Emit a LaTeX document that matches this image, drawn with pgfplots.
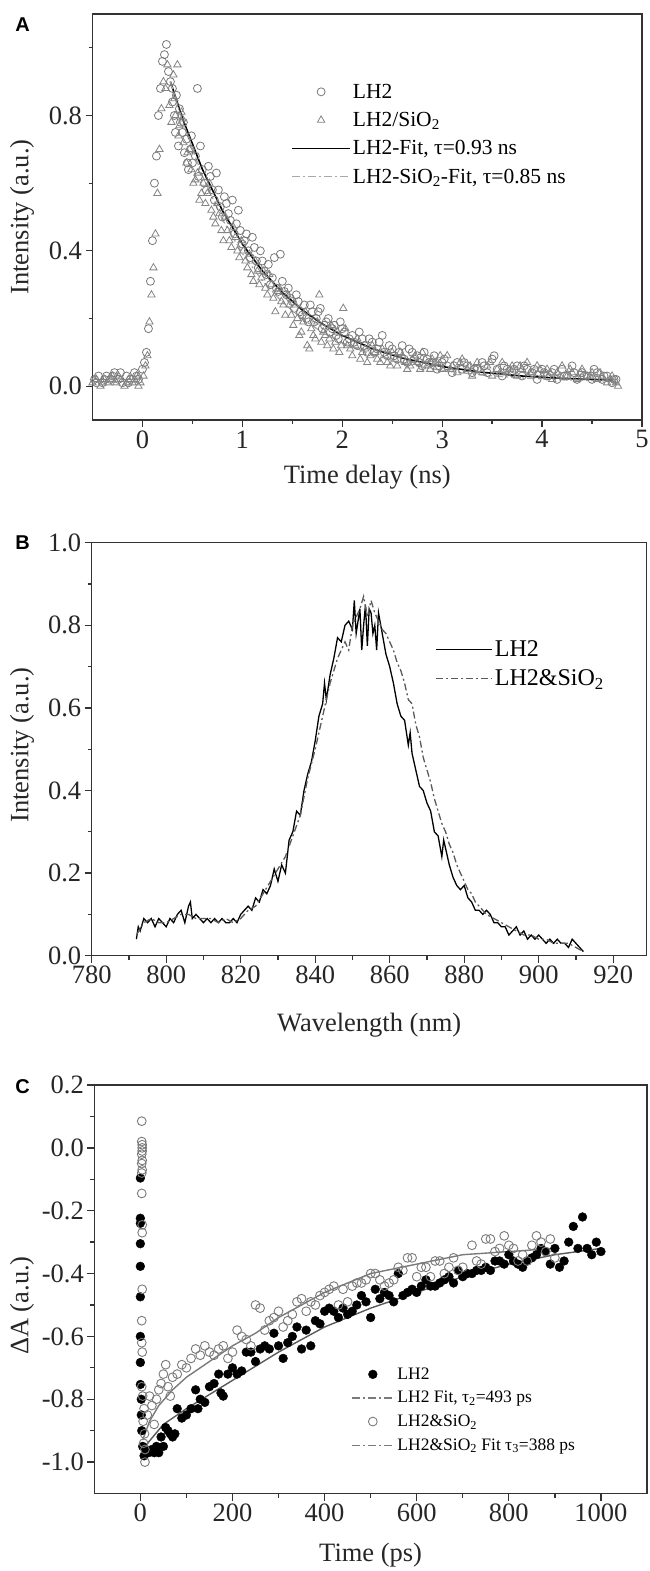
\documentclass[border=0pt]{standalone}
\usepackage{pgfplots}
\pgfplotsset{compat=1.18}
\usepackage{fontspec}
\setmainfont{Liberation Serif}
\newfontfamily\labelfont{Liberation Sans}
\definecolor{axisgray}{HTML}{333333}
\definecolor{markgray}{HTML}{787878}
\definecolor{trigray}{HTML}{858585}
\definecolor{fitlight}{HTML}{A8A8A8}
\definecolor{dashgray}{HTML}{5A5A5A}
\definecolor{cgray}{HTML}{7A7A7A}
\pgfplotsset{
  myaxis/.style={
    scale only axis,
    axis line style={line width=1.5pt, color=axisgray},
    every tick/.style={line width=1.3pt, color=axisgray},
    major tick length=7pt,
    minor tick length=4pt,
    tick align=outside,
    xtick pos=left, ytick pos=left,
    ticklabel style={font=\fontsize{26.5}{30}\selectfont, color=black!85},
    label style={font=\fontsize{26.5}{30}\selectfont, color=black!85},
    legend cell align=left,
    clip=true,
  }
}
\begin{document}
\begin{tikzpicture}
\path[use as bounding box] (0,0) rectangle (649pt,-1571pt);
% ---------------- Panel A ----------------
\begin{axis}[myaxis, at={(92.5pt,-14pt)}, anchor=north west,
  width=549.5pt, height=406pt,
  xmin=-0.5, xmax=5, ymin=-0.1, ymax=1.1,
  xtick={0,1,2,3,4,5}, xticklabels={0,1,2,3,4,5},
  minor xtick={0.5,1.5,2.5,3.5,4.5},
  ytick={0,0.4,0.8}, yticklabels={0.0,0.4,0.8},
  minor ytick={0.2,0.6,1.0},
  xlabel={Time delay (ns)}, ylabel={Intensity (a.u.)},
  xlabel style={at={(axis description cs:0.5,-0.14)}, anchor=center},
  ylabel style={at={(axis description cs:-0.128,0.5)}, anchor=center},
  legend style={draw=none, fill=none, at={(0.356,0.838)}, anchor=north west,
    font=\fontsize{21.5}{25}\selectfont, row sep=8.5pt},
  legend image code/.code={\draw[mark repeat=2,mark phase=2,#1] plot coordinates {(0pt,0pt) (29pt,0pt) (58pt,0pt)};},
]
\addplot[only marks, mark=o, mark size=4pt, mark options={draw=markgray, line width=0.8pt}] coordinates {
(-0.48,0.02)(-0.44,0.03)(-0.40,0.01)(-0.36,0.03)(-0.32,0.02)(-0.28,0.04)(-0.24,0.02)(-0.20,0.01)(-0.16,0.03)(-0.12,0.02)(-0.08,0.04)(-0.04,0.02)
(-0.46,0.01)(-0.38,0.02)(-0.30,0.03)(-0.22,0.04)(-0.14,0.01)(-0.06,0.03)
(0.00,0.05)(0.02,0.07)(0.04,0.10)(0.06,0.17)(0.08,0.31)(0.10,0.43)(0.12,0.60)(0.14,0.68)(0.16,0.80)(0.18,0.88)(0.20,0.96)(0.22,0.98)(0.24,1.01)(0.26,0.93)
(0.28,0.90)(0.30,0.84)(0.32,0.80)(0.34,0.86)(0.36,0.71)(0.38,0.78)(0.40,0.75)(0.42,0.69)(0.44,0.73)(0.46,0.64)(0.48,0.70)(0.50,0.66)(0.55,0.88)(0.56,0.62)
(0.60,0.64)(0.64,0.58)(0.68,0.62)(0.72,0.55)(0.76,0.58)(0.80,0.50)(0.84,0.54)(0.88,0.49)(0.92,0.45)(0.96,0.52)(1.00,0.42)(1.04,0.45)(1.08,0.38)(1.12,0.41)
(1.16,0.35)(1.20,0.37)(1.24,0.33)(1.28,0.30)(1.32,0.38)(1.36,0.28)(1.40,0.31)(1.44,0.27)(1.48,0.26)(1.52,0.23)(1.56,0.25)(1.60,0.21)(1.64,0.20)(1.68,0.24)
(1.72,0.19)(1.76,0.22)(1.80,0.17)(1.84,0.19)(1.88,0.16)(1.92,0.18)(1.96,0.14)(2.00,0.17)(2.05,0.13)(2.10,0.15)(2.15,0.12)(2.20,0.14)(2.25,0.10)(2.30,0.13)
(2.35,0.11)(2.40,0.15)(2.45,0.09)(2.50,0.11)(2.55,0.08)(2.60,0.12)(2.65,0.07)(2.70,0.10)(2.75,0.09)(2.80,0.06)(2.85,0.08)(2.90,0.07)(2.95,0.05)(3.00,0.07)
(3.05,0.06)(3.10,0.04)(3.15,0.07)(3.20,0.05)(3.25,0.06)(3.30,0.04)(3.35,0.05)(3.40,0.07)(3.45,0.04)(3.50,0.08)(3.55,0.05)(3.60,0.03)(3.65,0.05)(3.70,0.04)
(3.75,0.06)(3.80,0.03)(3.85,0.05)(3.90,0.04)(3.95,0.02)(4.00,0.05)(4.05,0.03)(4.10,0.04)(4.15,0.02)(4.20,0.05)(4.25,0.03)(4.30,0.06)(4.35,0.02)(4.40,0.04)
(4.45,0.03)(4.50,0.02)(4.55,0.04)(4.60,0.02)(4.65,0.03)(4.70,0.01)(4.74,0.02)
(0.30,0.88)(0.33,0.75)(0.37,0.82)(0.41,0.78)(0.45,0.66)(0.49,0.74)(0.53,0.68)(0.58,0.71)(0.62,0.60)(0.66,0.65)(0.70,0.58)(0.74,0.63)(0.78,0.53)(0.82,0.56)
(0.86,0.51)(0.90,0.55)(0.94,0.48)(0.98,0.46)(1.02,0.43)(1.06,0.40)(1.10,0.44)(1.14,0.37)(1.18,0.40)(1.22,0.34)(1.26,0.36)(1.30,0.32)(1.34,0.29)(1.38,0.39)
(1.42,0.28)(1.46,0.29)(1.50,0.25)(1.54,0.27)(1.58,0.22)(1.62,0.24)(1.66,0.19)(1.70,0.22)(1.74,0.20)(1.78,0.23)(1.82,0.18)(1.86,0.20)(1.90,0.17)(1.94,0.15)
(1.98,0.19)(2.02,0.16)(2.07,0.14)(2.12,0.13)(2.17,0.16)(2.22,0.12)(2.27,0.14)(2.32,0.10)(2.37,0.13)(2.42,0.10)(2.47,0.12)(2.52,0.09)(2.57,0.10)(2.62,0.08)
(2.67,0.11)(2.72,0.08)(2.77,0.07)(2.82,0.10)(2.87,0.07)(2.92,0.09)(2.97,0.06)(3.02,0.08)(3.12,0.06)(3.22,0.07)(3.32,0.05)(3.42,0.06)(3.52,0.09)(3.62,0.06)
(3.72,0.05)(3.82,0.06)(3.92,0.05)(4.02,0.04)(4.12,0.05)(4.22,0.03)(4.32,0.04)(4.42,0.03)(4.52,0.05)(4.62,0.03)(4.72,0.02)
};
\addlegendentry{LH2}
\addplot[only marks, mark=triangle, mark size=4.2pt, mark options={draw=trigray, line width=0.8pt}] coordinates {
(-0.50,0.01)(-0.46,0.02)(-0.42,0.00)(-0.38,0.02)(-0.34,0.01)(-0.30,0.03)(-0.26,0.01)(-0.22,0.02)(-0.18,0.00)(-0.14,0.02)(-0.10,0.01)(-0.06,0.03)(-0.02,0.01)
(-0.48,0.02)(-0.40,0.01)(-0.32,0.02)(-0.24,0.03)(-0.16,0.01)(-0.08,0.02)(-0.04,0.00)
(0.01,0.03)(0.03,0.06)(0.05,0.09)(0.07,0.19)(0.09,0.27)(0.11,0.35)(0.13,0.45)(0.15,0.57)(0.17,0.70)(0.19,0.82)(0.21,0.90)(0.23,0.88)(0.25,0.95)(0.27,0.83)
(0.29,0.78)(0.31,0.92)(0.33,0.80)(0.35,0.95)(0.37,0.77)(0.39,0.81)(0.41,0.72)(0.45,0.69)(0.49,0.64)(0.53,0.61)(0.57,0.55)(0.61,0.60)(0.65,0.57)(0.69,0.52)
(0.73,0.48)(0.77,0.51)(0.81,0.43)(0.85,0.46)(0.89,0.41)(0.93,0.44)(0.97,0.38)(1.01,0.40)(1.05,0.35)(1.09,0.33)(1.13,0.37)(1.17,0.30)(1.21,0.34)(1.25,0.27)
(1.29,0.30)(1.33,0.22)(1.37,0.29)(1.41,0.24)(1.45,0.27)(1.49,0.21)(1.53,0.24)(1.57,0.15)(1.61,0.19)(1.65,0.12)(1.69,0.17)(1.73,0.14)(1.77,0.27)(1.81,0.16)
(1.85,0.12)(1.89,0.18)(1.93,0.13)(1.97,0.10)(2.01,0.23)(2.05,0.12)(2.10,0.09)(2.15,0.14)(2.20,0.10)(2.25,0.07)(2.30,0.12)(2.35,0.08)(2.40,0.11)(2.45,0.07)
(2.50,0.10)(2.55,0.06)(2.60,0.09)(2.65,0.05)(2.70,0.08)(2.75,0.07)(2.80,0.10)(2.85,0.06)(2.90,0.08)(2.95,0.07)(3.00,0.05)(3.05,0.09)(3.10,0.06)(3.15,0.04)
(3.20,0.08)(3.25,0.05)(3.30,0.03)(3.35,0.07)(3.40,0.04)(3.45,0.06)(3.50,0.03)(3.55,0.05)(3.60,0.07)(3.65,0.04)(3.70,0.06)(3.75,0.03)(3.80,0.05)(3.85,0.07)
(3.90,0.04)(3.95,0.06)(4.00,0.03)(4.05,0.05)(4.10,0.02)(4.15,0.04)(4.20,0.06)(4.25,0.03)(4.30,0.04)(4.35,0.02)(4.40,0.05)(4.45,0.03)(4.50,0.04)(4.55,0.02)
(4.60,0.03)(4.65,0.01)(4.70,0.03)(4.74,0.01)(4.76,0.00)
(0.32,0.85)(0.36,0.74)(0.40,0.79)(0.44,0.66)(0.47,0.70)(0.51,0.60)(0.55,0.63)(0.59,0.57)(0.63,0.54)(0.67,0.60)(0.71,0.50)(0.75,0.54)(0.79,0.46)(0.83,0.50)
(0.87,0.43)(0.91,0.47)(0.95,0.40)(0.99,0.43)(1.03,0.37)(1.07,0.39)(1.11,0.31)(1.15,0.34)(1.19,0.32)(1.23,0.29)(1.27,0.33)(1.31,0.26)(1.35,0.28)(1.39,0.25)
(1.43,0.21)(1.47,0.24)(1.51,0.18)(1.55,0.20)(1.59,0.16)(1.63,0.22)(1.67,0.11)(1.71,0.15)(1.75,0.19)(1.79,0.13)(1.83,0.15)(1.87,0.14)(1.91,0.11)(1.95,0.16)
(1.99,0.12)(2.03,0.17)(2.08,0.11)(2.13,0.12)(2.18,0.08)(2.23,0.11)(2.28,0.09)(2.33,0.10)(2.38,0.07)(2.43,0.09)(2.48,0.06)(2.53,0.08)(2.58,0.10)(2.63,0.07)
(2.68,0.06)(2.73,0.09)(2.78,0.05)(2.83,0.08)(2.88,0.05)(2.93,0.07)(2.98,0.09)(3.08,0.05)(3.18,0.07)(3.28,0.06)(3.38,0.05)(3.48,0.07)(3.58,0.04)(3.68,0.05)
(3.78,0.06)(3.88,0.04)(3.98,0.05)(4.08,0.04)(4.18,0.03)(4.28,0.05)(4.38,0.04)(4.48,0.03)(4.58,0.04)(4.68,0.02)
};
\addlegendentry{LH2/SiO\textsubscript{2}}
\addplot[black, line width=1.6pt] coordinates {
(0.28,0.900)(0.4,0.792)(0.6,0.641)(0.8,0.519)(1.0,0.420)(1.2,0.341)(1.4,0.277)(1.6,0.225)(1.8,0.184)(2.0,0.150)(2.3,0.111)(2.6,0.083)(3.0,0.058)(3.4,0.041)(3.8,0.030)(4.2,0.023)(4.7,0.018)
};
\addlegendentry{LH2-Fit, τ=0.93 ns}
\addplot[fitlight, line width=1.3pt, dash pattern=on 8pt off 3pt on 2pt off 3pt] coordinates {
(0.28,0.900)(0.4,0.783)(0.6,0.621)(0.8,0.493)(1.0,0.392)(1.2,0.312)(1.4,0.248)(1.6,0.199)(1.8,0.159)(2.0,0.128)(2.3,0.093)(2.6,0.068)(3.0,0.046)(3.4,0.033)(3.8,0.024)(4.2,0.019)(4.7,0.015)
};
\addlegendentry{LH2-SiO\textsubscript{2}-Fit, τ=0.85 ns}
\end{axis}
% ---------------- Panel B ----------------
\begin{axis}[myaxis, at={(91.7pt,-542.7pt)}, anchor=north west,
  width=555pt, height=413pt,
  xmin=780, xmax=929, ymin=0, ymax=1.0,
  xtick={780,800,820,840,860,880,900,920}, xticklabels={780,800,820,840,860,880,900,920},
  minor xtick={790,810,830,850,870,890,910},
  ytick={0,0.2,0.4,0.6,0.8,1.0}, yticklabels={0.0,0.2,0.4,0.6,0.8,1.0},
  minor ytick={0.1,0.3,0.5,0.7,0.9},
  xlabel={Wavelength (nm)}, ylabel={Intensity (a.u.)},
  xlabel style={at={(axis description cs:0.5,-0.168)}, anchor=center},
  ylabel style={at={(axis description cs:-0.1255,0.51)}, anchor=center},
  legend style={draw=none, fill=none, at={(0.614,0.772)}, anchor=north west,
    font=\fontsize{24}{28}\selectfont, row sep=7pt},
  legend image code/.code={\draw[#1] (0pt,0pt) -- (56pt,0pt);},
]
\addplot[black, line width=1.3pt] coordinates {
(792,0.04)(792.5,0.07)(793,0.06)(794,0.09)(795,0.08)(796,0.09)(797,0.07)(798,0.09)(799,0.08)(800,0.07)(801,0.09)(802,0.08)(803,0.10)(804,0.11)(805,0.08)
(806,0.12)(806.5,0.13)(807,0.09)(808,0.10)(809,0.09)(810,0.08)(811,0.09)(812,0.08)(813,0.09)(814,0.08)(815,0.09)(816,0.08)(817,0.08)(818,0.09)(819,0.08)
(820,0.10)(821,0.11)(822,0.12)(823,0.11)(824,0.14)(825,0.13)(826,0.16)(827,0.15)(828,0.17)(829,0.21)(830,0.18)(831,0.22)(832,0.20)(833,0.28)(834,0.30)
(835,0.35)(836,0.34)(837,0.40)(838,0.44)(839,0.47)(840,0.52)(841,0.58)(842,0.61)(842.5,0.66)(843,0.62)(844,0.68)(845,0.72)(846,0.77)(847,0.76)(848,0.80)
(849,0.81)(850,0.79)(850.5,0.86)(851,0.78)(852,0.84)(852.5,0.74)(853,0.80)(853.5,0.85)(854,0.75)(854.5,0.84)(855,0.83)(855.5,0.78)(856,0.80)(856.5,0.74)
(857,0.83)(858,0.78)(859,0.73)(860,0.70)(861,0.66)(862,0.61)(863,0.58)(864,0.57)(865,0.51)(865.5,0.54)(866,0.49)(867,0.45)(868,0.41)(869,0.40)(870,0.37)
(871,0.35)(872,0.30)(873,0.29)(874,0.24)(874.5,0.28)(875,0.26)(876,0.22)(877,0.19)(878,0.17)(879,0.16)(880,0.17)(881,0.14)(882,0.13)(883,0.11)(884,0.11)
(885,0.10)(886,0.11)(887,0.10)(888,0.08)(889,0.08)(890,0.07)(891,0.07)(892,0.05)(893,0.06)(894,0.07)(895,0.05)(896,0.06)(897,0.04)(898,0.05)(899,0.04)
(900,0.05)(901,0.04)(902,0.03)(903,0.04)(904,0.03)(905,0.04)(906,0.03)(907,0.03)(908,0.02)(909,0.04)(910,0.03)(911,0.02)(912,0.01)
};
\addlegendentry{LH2}
\addplot[dashgray, line width=1.3pt, dash pattern=on 7pt off 3pt on 2pt off 3pt] coordinates {
(792,0.05)(794,0.08)(796,0.09)(798,0.08)(800,0.08)(802,0.09)(804,0.10)(806,0.10)(808,0.09)(810,0.09)(812,0.09)(814,0.08)(816,0.09)(818,0.08)(820,0.09)
(822,0.11)(824,0.12)(826,0.15)(828,0.18)(830,0.21)(832,0.24)(834,0.29)(836,0.34)(838,0.43)(840,0.50)(842,0.58)(844,0.66)(846,0.72)(848,0.76)(849,0.74)
(850,0.80)(851,0.82)(852,0.84)(853,0.87)(854,0.82)(855,0.86)(856,0.83)(857,0.81)(858,0.79)(859,0.78)(860,0.76)(861,0.74)(862,0.71)(863,0.69)(864,0.66)
(865,0.62)(866,0.61)(867,0.56)(868,0.53)(869,0.48)(870,0.45)(871,0.42)(872,0.38)(873,0.35)(874,0.32)(875,0.30)(876,0.27)(877,0.25)(878,0.22)(879,0.20)
(880,0.18)(881,0.16)(882,0.15)(883,0.13)(884,0.12)(885,0.11)(886,0.10)(888,0.09)(890,0.08)(892,0.07)(894,0.06)(896,0.05)(898,0.05)(900,0.04)(902,0.04)
(904,0.03)(906,0.03)(908,0.03)(910,0.02)(912,0.01)
};
\addlegendentry{LH2\&SiO\textsubscript{2}}
\end{axis}
% ---------------- Panel C ----------------
\begin{axis}[myaxis, at={(94.3pt,-1085pt)}, anchor=north west,
  width=552.7pt, height=408.5pt,
  xmin=-100, xmax=1100, ymin=-1.1, ymax=0.2,
  xtick={0,200,400,600,800,1000}, xticklabels={0,200,400,600,800,1000},
  minor xtick={100,300,500,700,900},
  ytick={-1.0,-0.8,-0.6,-0.4,-0.2,0.0,0.2}, yticklabels={-1.0,-0.8,-0.6,-0.4,-0.2,0.0,0.2},
  minor ytick={-0.9,-0.7,-0.5,-0.3,-0.1,0.1},
  xlabel={Time (ps)}, ylabel={ΔA (a.u.)},
  xlabel style={at={(axis description cs:0.5,-0.15)}, anchor=center},
  ylabel style={at={(axis description cs:-0.131,0.46)}, anchor=center},
  legend style={draw=none, fill=none, at={(0.459,0.318)}, anchor=north west,
    font=\fontsize{17.5}{20}\selectfont, row sep=6.5pt},
  legend image code/.code={\draw[mark repeat=2,mark phase=2,#1] plot coordinates {(0pt,0pt) (21pt,0pt) (43pt,0pt)};},
]
\addplot[only marks, mark=*, mark size=4.4pt, mark options={fill=black, draw=black}] coordinates {
(0,-0.096)(0,-0.224)(0,-0.24)(0,-0.305)(0,-0.377)(0,-0.474)(0,-0.60)(0,-0.683)(0,-0.753)(2,-0.80)(2,-0.85)(3,-0.90)(5,-0.95)(8,-0.98)
(12,-0.96)(18,-0.97)(25,-0.96)(30,-0.97)(35,-0.95)(40,-0.97)(45,-0.92)(50,-0.95)(55,-0.89)(60,-0.90)(65,-0.91)(70,-0.92)(75,-0.91)(80,-0.83)
(90,-0.86)(100,-0.85)(110,-0.83)(120,-0.77)(125,-0.83)(130,-0.80)(140,-0.81)(150,-0.76)(160,-0.75)(170,-0.72)(175,-0.78)(180,-0.79)(190,-0.72)(200,-0.70)
(210,-0.72)(220,-0.71)(230,-0.65)(240,-0.65)(250,-0.68)(260,-0.64)(270,-0.63)(280,-0.64)(290,-0.59)(300,-0.63)(310,-0.67)(320,-0.62)(330,-0.60)(340,-0.57)
(350,-0.64)(360,-0.58)(370,-0.63)(380,-0.55)(390,-0.56)(400,-0.52)(410,-0.51)(420,-0.52)(430,-0.54)(440,-0.51)(450,-0.53)(460,-0.52)(470,-0.50)(480,-0.47)
(490,-0.49)(500,-0.54)(510,-0.45)(520,-0.48)(530,-0.46)(540,-0.47)(550,-0.49)(560,-0.40)(570,-0.47)(580,-0.46)(590,-0.45)(600,-0.46)(610,-0.44)(620,-0.42)
(630,-0.44)(640,-0.44)(650,-0.43)(660,-0.42)(670,-0.41)(680,-0.43)(690,-0.39)(700,-0.41)(710,-0.40)(720,-0.40)(730,-0.39)(740,-0.39)(750,-0.38)(760,-0.39)
(770,-0.36)(780,-0.36)(790,-0.37)(800,-0.34)(810,-0.36)(820,-0.37)(830,-0.38)(840,-0.36)(850,-0.35)(860,-0.34)(870,-0.32)(880,-0.33)(890,-0.37)(900,-0.32)
(910,-0.38)(920,-0.36)(930,-0.30)(940,-0.25)(950,-0.32)(960,-0.22)(970,-0.32)(980,-0.34)(990,-0.30)(1000,-0.33)
};
\addlegendentry{LH2}
\addplot[dashgray, line width=1.4pt, forget plot] coordinates {
(10,-0.95)(50,-0.88)(100,-0.83)(200,-0.74)(300,-0.65)(400,-0.57)(500,-0.51)(600,-0.46)(700,-0.41)(800,-0.37)(900,-0.34)(1000,-0.32)
};
\addlegendimage{cgray, line width=1.3pt, dash pattern=on 8pt off 3pt on 2pt off 3pt}
\addlegendentry{LH2 Fit, τ\textsubscript{2}=493 ps}
\addplot[only marks, mark=o, mark size=4.4pt, mark options={draw=cgray, fill=white, line width=0.9pt}] coordinates {
(3,0.085)(3,0.02)(4,0.01)(4,0.0)(4,-0.01)(3,-0.02)(4,-0.04)(3,-0.05)(4,-0.07)(3,-0.08)(3,-0.145)(4,-0.245)(4,-0.27)(4,-0.45)(3,-0.55)(3,-0.62)(4,-0.65)
(3,-0.76)(5,-0.79)(8,-0.83)(6,-0.87)(9,-0.91)(7,-0.94)(10,-0.96)(10,-1.0)
(15,-0.85)(20,-0.79)(25,-0.82)(30,-0.88)(35,-0.80)(40,-0.77)(45,-0.75)(50,-0.72)(55,-0.69)(60,-0.76)(65,-0.79)(70,-0.73)(80,-0.72)(90,-0.69)(100,-0.70)
(110,-0.67)(120,-0.64)(130,-0.66)(140,-0.63)(150,-0.65)(160,-0.66)(170,-0.64)(180,-0.63)(190,-0.67)(200,-0.65)(210,-0.58)(220,-0.60)(230,-0.61)(240,-0.63)
(250,-0.50)(260,-0.51)(270,-0.58)(280,-0.55)(290,-0.54)(300,-0.52)(310,-0.57)(320,-0.55)(330,-0.53)(340,-0.49)(350,-0.48)(360,-0.52)(370,-0.49)(380,-0.50)
(390,-0.47)(400,-0.46)(410,-0.45)(420,-0.44)(430,-0.50)(440,-0.45)(450,-0.49)(460,-0.44)(470,-0.43)(480,-0.43)(490,-0.42)(500,-0.40)(510,-0.40)(520,-0.42)
(530,-0.44)(540,-0.43)(550,-0.42)(560,-0.38)(570,-0.39)(580,-0.35)(590,-0.35)(600,-0.41)(610,-0.38)(620,-0.38)(630,-0.41)(640,-0.36)(650,-0.36)(660,-0.40)
(670,-0.38)(680,-0.35)(690,-0.39)(700,-0.38)(720,-0.31)(730,-0.36)(740,-0.37)(750,-0.29)(760,-0.29)(770,-0.33)(780,-0.32)(790,-0.28)(800,-0.31)(810,-0.32)
(820,-0.36)(830,-0.34)(840,-0.36)(850,-0.31)(860,-0.28)(870,-0.30)(880,-0.33)(890,-0.29)(900,-0.35)
};
\addlegendentry{LH2\&SiO\textsubscript{2}}
\addplot[cgray, line width=1.4pt, forget plot] coordinates {
(5,-0.93)(20,-0.87)(40,-0.82)(70,-0.77)(100,-0.73)(150,-0.68)(200,-0.63)(250,-0.59)(300,-0.54)(400,-0.46)(500,-0.40)(600,-0.37)(700,-0.34)(800,-0.33)(900,-0.32)
};
\addlegendimage{cgray, line width=1.3pt, dash pattern=on 8pt off 3pt on 2pt off 3pt}
\addlegendentry{LH2\&SiO\textsubscript{2} Fit τ\textsubscript{3}=388 ps}
\end{axis}
% panel letters
\node[font=\labelfont\bfseries\fontsize{20}{24}\selectfont] at (22.5pt,-25pt) {A};
\node[font=\labelfont\bfseries\fontsize{20}{24}\selectfont] at (22.5pt,-543pt) {B};
\node[font=\labelfont\bfseries\fontsize{20}{24}\selectfont] at (22.5pt,-1087pt) {C};
\end{tikzpicture}
\end{document}
